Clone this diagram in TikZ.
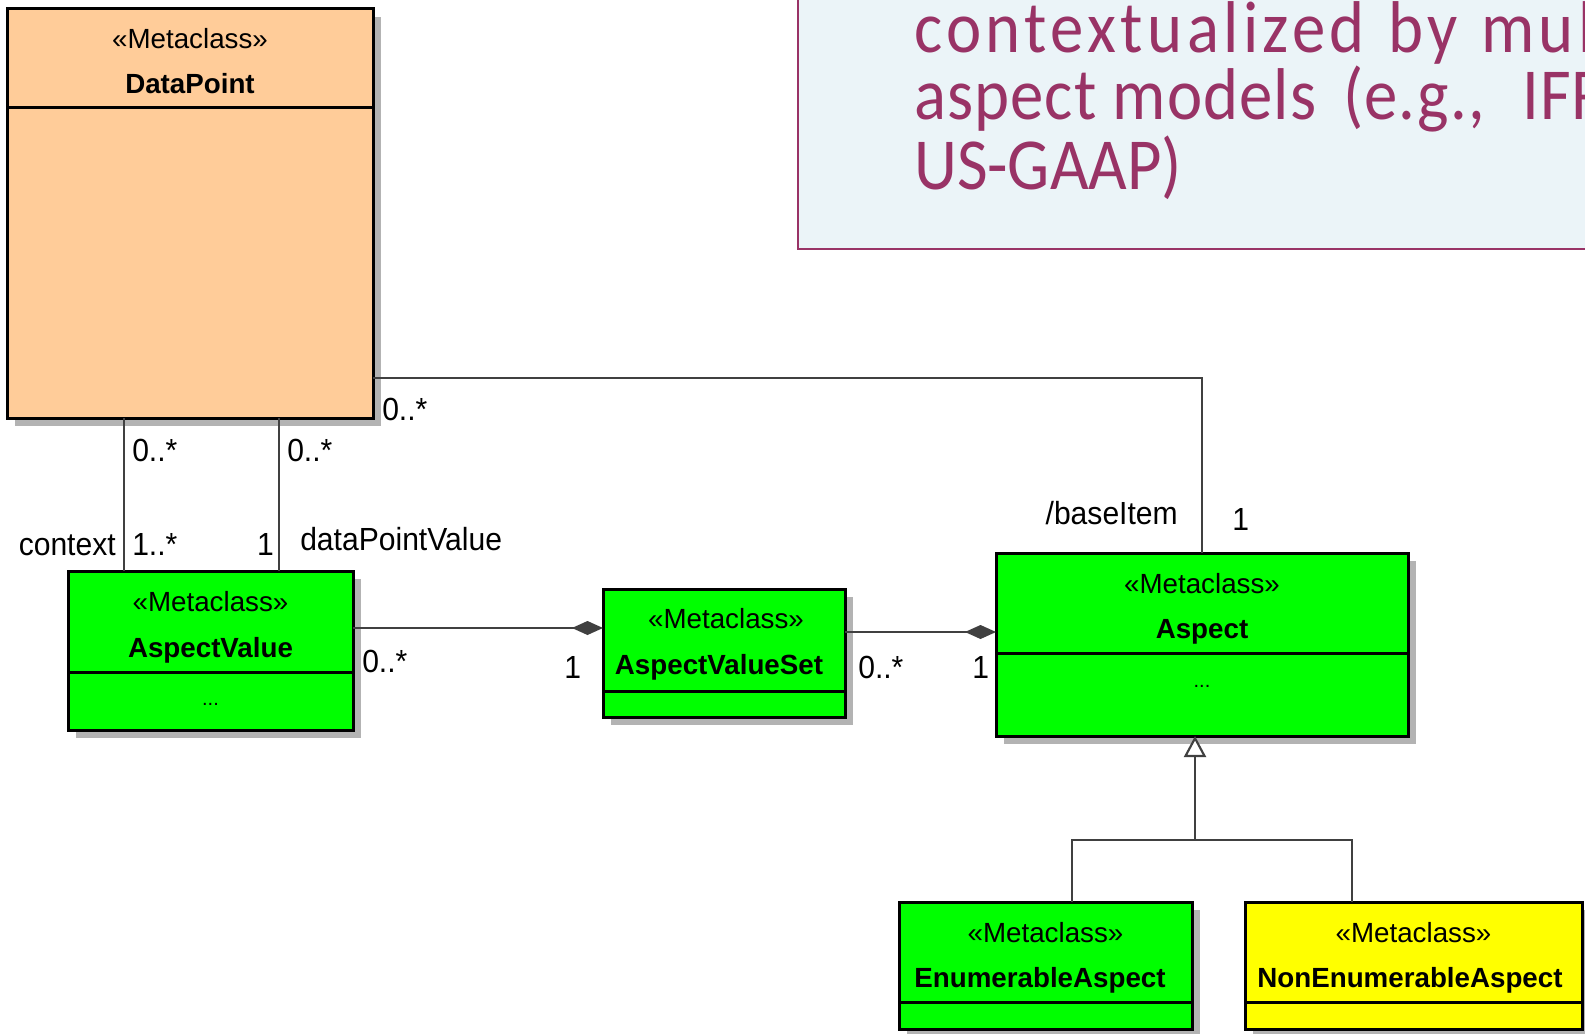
\documentclass[tikz,border=0pt]{standalone}
\usepackage{fontspec}
\setmainfont{Liberation Sans}
\newfontfamily\labelfont[FakeStretch=0.94]{Liberation Sans}
\newfontfamily\notefont[FakeStretch=0.91]{Carlito}
\newfontfamily\notefontmid[FakeStretch=0.91,LetterSpace=1.5]{Carlito}
\newfontfamily\notefontwide[FakeStretch=0.91,LetterSpace=6]{Carlito}
\usetikzlibrary{arrows.meta,calc}

\definecolor{dpfill}{HTML}{FFCC99}
\definecolor{umlgreen}{HTML}{00FF00}
\definecolor{umlyellow}{HTML}{FFFF00}
\definecolor{shade}{HTML}{B3B3B3}
\definecolor{wire}{HTML}{404040}
\definecolor{plum}{HTML}{993366}
\definecolor{notebg}{HTML}{EBF4F8}

\begin{document}
\begin{tikzpicture}[x=0.75pt,y=-0.75pt,
  classbox/.style={draw=black,line width=2.25pt,inner sep=0pt,outer sep=0pt,
    preaction={fill=shade,transform canvas={xshift=6pt,yshift=-6pt}}},
  boxsize/.style 2 args={minimum width=#1*0.75pt,minimum height=#2*0.75pt},
  divider/.style={draw=black,line width=2.25pt},
  stereo/.style={font=\fontsize{20.8}{24}\selectfont,anchor=base,inner sep=0pt},
  cname/.style={font=\fontsize{20.8}{24}\selectfont\bfseries,anchor=base,inner sep=0pt},
  dots/.style={font=\fontsize{15}{18}\selectfont,anchor=base,inner sep=0pt},
  mult/.style={font=\labelfont\fontsize{24}{28}\selectfont,anchor=base west,inner sep=0pt},
  multr/.style={font=\labelfont\fontsize{24}{28}\selectfont,anchor=base east,inner sep=0pt},
  wire/.style={draw=wire,line width=1.6pt},
  compose/.style={-{Diamond[length=23.25pt,width=10.5pt,fill=wire]}},
  inherit/.style={-{Triangle[open,fill=white,length=15.75pt,width=16.5pt]}},
  notetxt/.style={text=plum,anchor=base west,inner sep=0pt},
]
\useasboundingbox (0,0) rectangle (1585,1034);
\clip (0,0) rectangle (1585,1034);
\fill[white] (0,0) rectangle (1585,1034);

% explanatory note in the upper right corner
\draw[draw=plum,line width=1.5pt,fill=notebg] (797.5,-20) rectangle (1640,249);
\node[notetxt,font=\notefontwide\fontsize{55}{57}\selectfont] (note1) at (914,53)
  {contextualized\hspace{3pt} by\hspace{3pt} multiple};
\node[notetxt,font=\notefontmid\fontsize{55}{57}\selectfont] (note2) at (914,120)
  {aspect models\hspace{8pt} (e.g.,\hspace{16pt} IFRS,};
\node[notetxt,font=\notefont\fontsize{55}{57}\selectfont] (note3) at (914,190) {US-GAAP)};

% class boxes
\node[classbox,fill=dpfill,boxsize={366}{409}] (dp) at (190,213.5) {};
\draw[divider] (7,108) -- (373,108);
\node[stereo] (dpst) at (190,49) {«Metaclass»};
\node[cname] (dpnm) at (190,94) {DataPoint};

\node[classbox,fill=umlgreen,boxsize={285}{159}] (av) at (210.5,650.5) {};
\draw[divider] (68,672) -- (353,672);
\node[stereo] (avst) at (210.5,611) {«Metaclass»};
\node[cname] (avnm) at (210.5,657) {AspectValue};
\node[dots] (avdt) at (210.5,705) {...};

\node[classbox,fill=umlgreen,boxsize={242}{128}] (avs) at (724,653) {};
\draw[divider] (603,691) -- (845,691);
\node[stereo] (avsst) at (726,628) {«Metaclass»};
\node[cname] (avsnm) at (719,674) {AspectValueSet};

\node[classbox,fill=umlgreen,boxsize={412}{183}] (asp) at (1202,644.5) {};
\draw[divider] (996,653) -- (1408,653);
\node[stereo] (aspst) at (1202,593) {«Metaclass»};
\node[cname] (aspnm) at (1202,638) {Aspect};
\node[dots] (aspdt) at (1202,687) {...};

\node[classbox,fill=umlgreen,boxsize={293}{127}] (enum) at (1045.5,965.5) {};
\draw[divider] (899,1002) -- (1192,1002);
\node[stereo] (enst) at (1045.5,942) {«Metaclass»};
\node[cname] (ennm) at (1040,987) {EnumerableAspect};

\node[classbox,fill=umlyellow,boxsize={337}{127}] (nenum) at (1413.5,965.5) {};
\draw[divider] (1245,1002) -- (1582,1002);
\node[stereo] (nest) at (1413.5,942) {«Metaclass»};
\node[cname] (nenm) at (1410,987) {NonEnumerableAspect};

% associations
\draw[wire] ($(dp.south west)+(117,0)$) -- ($(av.north west)+(56,0)$);
\draw[wire] ($(dp.south west)+(272,0)$) -- ($(av.north west)+(211,0)$);
\draw[wire] ($(dp.north east)+(0,369)$) -| (asp.north);
\draw[wire,compose] ($(av.north east)+(0,57)$) -- ($(avs.north west)+(0,39)$);
\draw[wire,compose] ($(avs.north east)+(0,43)$) -- ($(asp.north west)+(0,79)$);

% generalization tree
\coordinate (gbar) at (1195,840);
\draw[wire] ($(enum.north west)+(173,0)$) |- (gbar) -| ($(nenum.north west)+(107,0)$);
\draw[wire,inherit] (gbar) -- (gbar |- asp.south);

% association end labels
\node[mult] (m1) at (382,420) {0..*};
\node[mult] (m2) at (132,461) {0..*};
\node[mult] (m3) at (287,461) {0..*};
\node[multr] (r1) at (116,555) {context};
\node[mult] (m4) at (132,555) {1..*};
\node[multr] (m5) at (274,555) {1};
\node[mult] (r2) at (300,550) {dataPointValue};
\node[mult] (m6) at (362,672) {0..*};
\node[mult] (m7) at (564,678) {1};
\node[mult] (m8) at (858,678) {0..*};
\node[mult] (m9) at (972,678) {1};
\node[multr] (r3) at (1178,524) {/baseItem};
\node[mult] (m10) at (1232,530) {1};
\end{tikzpicture}
\end{document}
